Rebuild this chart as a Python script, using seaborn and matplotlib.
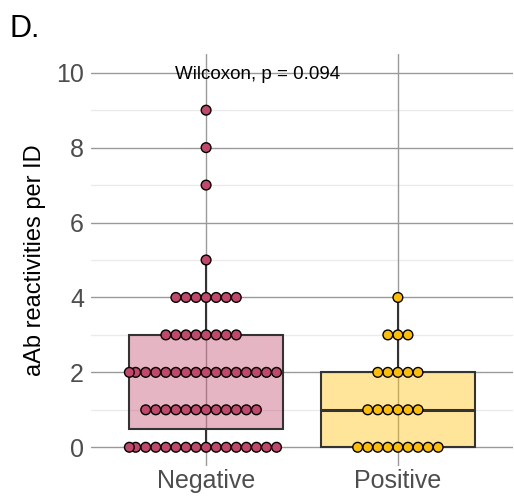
import numpy as np
import pandas as pd
import matplotlib
matplotlib.use('Agg')
import matplotlib.pyplot as plt
import seaborn as sns

# %% data: counts of IDs per number of reactivities
groups = ['Negative', 'Positive']
neg_values = [0, 1, 2, 3, 4, 5, 7, 8, 9]
neg_counts = [16, 12, 16, 8, 7, 1, 1, 1, 1]
pos_values = [0, 1, 2, 3, 4]
pos_counts = [9, 6, 5, 3, 1]
yticks = [0, 2, 4, 6, 8, 10]
p_label = 'Wilcoxon, p = 0.094'
colors = {'Negative': '#C2476B', 'Positive': '#FFBF00'}

df = pd.concat([
    pd.DataFrame({'group': 'Negative', 'n': np.repeat(neg_values, neg_counts)}),
    pd.DataFrame({'group': 'Positive', 'n': np.repeat(pos_values, pos_counts)}),
])

# %% plot
sns.set_style('white')
plt.rcParams['font.family'] = ['Liberation Sans', 'DejaVu Sans']

fig = plt.figure(figsize=(5.14, 4.98), dpi=100)
ax = fig.add_axes([91/514, 1-466/498, 422/514, 412/498])

# grid like theme_minimal
for y in yticks:
    ax.axhline(y, color='#9a9a9a', lw=1.0, zorder=0)
for y in [1, 3, 5, 7, 9]:
    ax.axhline(y, color='#ebebeb', lw=1.0, zorder=0)
for x in [0, 1]:
    ax.axvline(x, color='#9a9a9a', lw=1.0, zorder=0)

sns.boxplot(data=df, x='group', y='n', hue='group', order=groups, palette=colors,
            saturation=1, width=0.8, showfliers=False, showcaps=False,
            linewidth=1.5, linecolor='#333333', medianprops={'linewidth': 2.2},
            legend=False, ax=ax, zorder=2)
for patch in ax.patches:
    fc = patch.get_facecolor()
    patch.set_facecolor((fc[0], fc[1], fc[2], 0.4))
    patch.set_edgecolor('#333333')

sns.swarmplot(data=df, x='group', y='n', hue='group', order=groups, palette=colors,
              size=6.0, edgecolor='black', linewidth=0.9, legend=False,
              warn_thresh=1, ax=ax, zorder=3)
ax.set_xlim(-0.6, 1.6)
ax.set_ylim(-0.5, 10.5)

# swarm is laid out at draw time; freeze it, then enlarge dots so they touch
fig.canvas.draw()
for coll in ax.collections:
    if 'draw' in coll.__dict__:
        del coll.draw
    coll.set_sizes([7.0 ** 2])
    coll.set_linewidth(1.0)

ax.set_yticks(yticks)
ax.set_xlabel('')
ax.set_ylabel('aAb reactivities per ID', fontsize=17, color='black', labelpad=7)
ax.tick_params(axis='both', length=0, labelsize=18, labelcolor='#4d4d4d')
ax.tick_params(axis='y', pad=5)
ax.tick_params(axis='x', pad=2)
sns.despine(ax=ax, left=True, bottom=True)

ax.text(0.266, 9.95, p_label, ha='center', va='center', fontsize=13.5, color='black')
fig.text(10/514, 1-37/498, 'D.', fontsize=22, color='black', ha='left', va='baseline')

plt.savefig('out.png', dpi=100)
